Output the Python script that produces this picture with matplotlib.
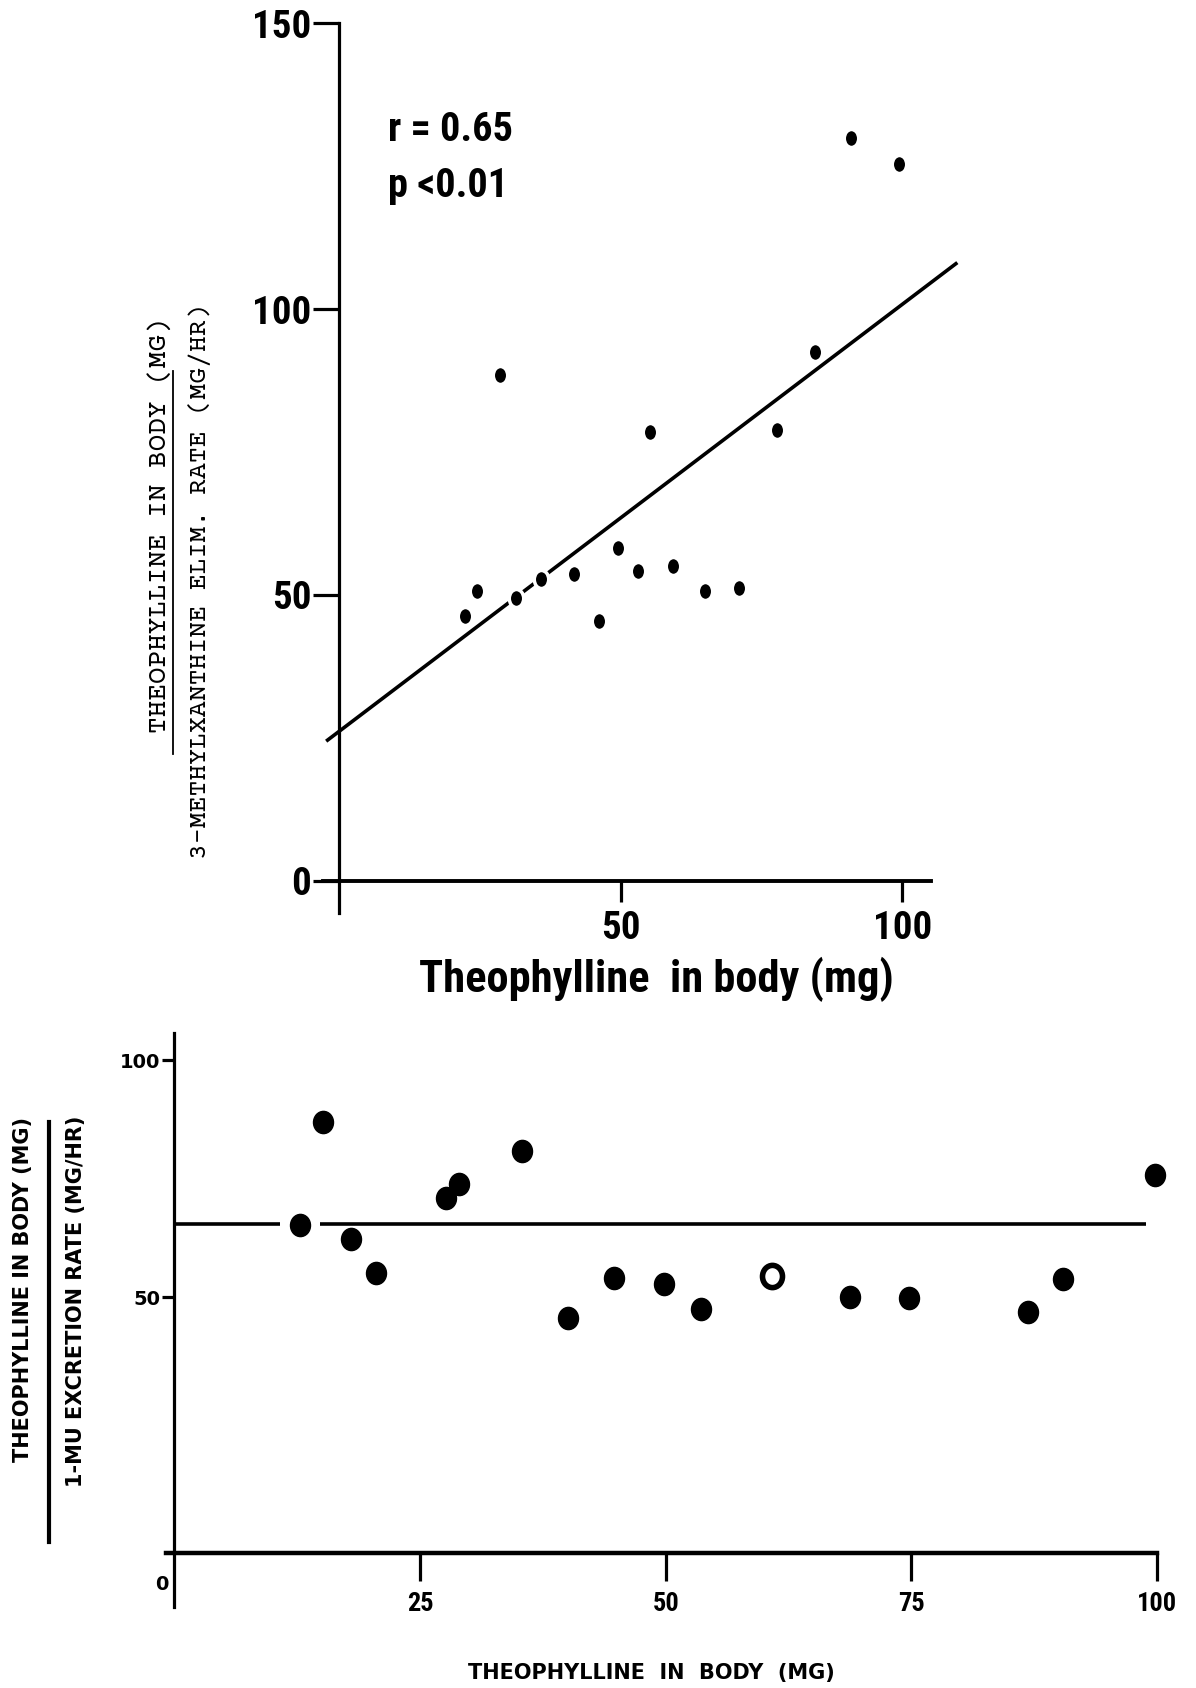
import matplotlib
matplotlib.use("Agg")
import matplotlib.pyplot as plt
from matplotlib.lines import Line2D
from matplotlib.markers import MarkerStyle
from matplotlib.transforms import Affine2D

# --- upper panel: theophylline / 3-methylxanthine elimination rate ---
top_x = [22.4, 24.5, 28.5, 31.4, 35.8, 41.7, 46.1, 49.5, 53.0, 55.3,
         59.3, 65.0, 71.1, 77.8, 84.5, 91.0, 99.4]
top_y = [46.2, 50.7, 88.4, 49.5, 52.7, 53.7, 45.4, 58.2, 54.2, 78.4,
         55.0, 50.7, 51.2, 78.8, 92.5, 130.0, 125.3]
fit_intercept = 26.1
fit_slope = 0.747
fit_range = [-2.3, 109.8]
r_text = "r = 0.65"
p_text = "p <0.01"
top_yticks = [0, 50, 100, 150]
top_xticks = [50, 100]

# --- lower panel: theophylline / 1-MU excretion rate ---
bot_x = [12.8, 15.1, 18.0, 20.5, 27.6, 29.0, 35.4, 40.1, 44.7, 49.8,
         53.6, 60.8, 68.7, 74.7, 86.9, 90.4, 99.8]
bot_y = [65.2, 87.0, 62.3, 55.0, 70.9, 73.9, 80.9, 45.5, 54.1, 52.7,
         47.5, 54.5, 50.0, 49.8, 46.8, 53.9, 75.7]
bot_open = [False] * 11 + [True] + [False] * 5
mean_level = 65.5
mean_segments = [(0, 10.7), (14.8, 98.9)]
bot_yticks = [50, 100]
bot_xticks = [25, 50, 75, 100]

narrow = ['Roboto Condensed', 'PT Sans Narrow', 'Archivo Narrow', 'DejaVu Sans']
mono = ['Courier Prime', 'Liberation Mono', 'DejaVu Sans Mono']
bold_sans = ['DejaVu Sans']

fig = plt.figure(figsize=(11.96, 16.88), dpi=100)

# ===== top panel =====
ax = fig.add_axes([0.26, 0.4445, 0.5508, 0.5485])
ax.set_xlim(-5, 112)
ax.set_ylim(-10, 152)
for s in ['top', 'right']:
    ax.spines[s].set_visible(False)
ax.spines['left'].set_position(('data', 0))
ax.spines['bottom'].set_position(('data', 0))
ax.spines['left'].set_bounds(-5.6, 150)
ax.spines['bottom'].set_bounds(-2.9, 105.2)
ax.spines['left'].set_linewidth(2.3)
ax.spines['bottom'].set_linewidth(2.8)

ax.set_yticks(top_yticks)
ax.set_yticklabels([str(t) for t in top_yticks])
ax.set_xticks(top_xticks)
ax.set_xticklabels([str(t) for t in top_xticks])
ax.tick_params(axis='y', direction='out', length=19, width=2.3, pad=1)
ax.tick_params(axis='x', direction='out', length=15, width=2.3, pad=6)
for lab in ax.get_yticklabels() + ax.get_xticklabels():
    lab.set_family(narrow)
    lab.set_fontweight('bold')
    lab.set_fontsize(28)

xs = fit_range
ys = [fit_intercept + fit_slope * v for v in xs]
ax.plot(xs, ys, color='black', lw=2.6, solid_capstyle='butt', zorder=2)

oval = MarkerStyle('o', transform=Affine2D().scale(0.8, 1.0))
ax.plot(top_x, top_y, linestyle='none', marker=oval, markersize=13,
        markerfacecolor='black', markeredgecolor='white', markeredgewidth=2.5,
        zorder=3)

ax.text(8.6, 131.3, r_text, family=narrow, fontweight='bold', fontsize=29,
        va='center', ha='left')
ax.text(8.6, 121.6, p_text, family=narrow, fontweight='bold', fontsize=29,
        va='center', ha='left')

fig.text(0.549, 0.4196, "Theophylline  in body (mg)", family=narrow,
         fontweight='bold', fontsize=32, ha='center', va='center')

# typewritten ratio label with fraction bar
fig.text(0.1332, 0.6888, "THEOPHYLLINE IN BODY (MG)", family=mono,
         fontsize=20, rotation=90, ha='center', va='center')
fig.text(0.1665, 0.6556, "3-METHYLXANTHINE ELIM. RATE (MG/HR)", family=mono,
         fontsize=19, rotation=90, ha='center', va='center')
fig.add_artist(Line2D([0.1445, 0.1445], [0.5536, 0.78], color='black', lw=1.3,
                      transform=fig.transFigure))

# ===== bottom panel =====
bx = fig.add_axes([0.1047, 0.0351, 0.8875, 0.3536])
bx.set_xlim(-5, 103)
bx.set_ylim(-20, 106)
for s in ['top', 'right']:
    bx.spines[s].set_visible(False)
bx.spines['left'].set_position(('data', 0))
bx.spines['bottom'].set_position(('data', -4))
bx.spines['left'].set_bounds(-15.5, 105.7)
bx.spines['bottom'].set_bounds(-0.8, 100)
bx.spines['left'].set_linewidth(2.3)
bx.spines['bottom'].set_linewidth(3.2)

bx.set_yticks(bot_yticks)
bx.set_yticklabels([str(t) for t in bot_yticks])
bx.set_xticks(bot_xticks)
bx.set_xticklabels([str(t) for t in bot_xticks])
bx.tick_params(axis='y', direction='out', length=9, width=2.3, pad=1, labelsize=14)
bx.tick_params(axis='x', direction='out', length=20, width=2.3, pad=8)
for lab in bx.get_yticklabels():
    lab.set_family(bold_sans)
    lab.set_fontweight('bold')
for lab in bx.get_xticklabels():
    lab.set_family(narrow)
    lab.set_fontweight('bold')
    lab.set_fontsize(19)

bx.text(-1.3, -10.7, "0", family=bold_sans, fontweight='bold', fontsize=14,
        ha='center', va='center')

for x0, x1 in mean_segments:
    bx.plot([x0, x1], [mean_level, mean_level], color='black', lw=2.6,
            solid_capstyle='butt', zorder=2)

oval_b = MarkerStyle('o', transform=Affine2D().scale(0.9, 1.0))
for x, y, op in zip(bot_x, bot_y, bot_open):
    bx.plot([x], [y], linestyle='none', marker=oval_b, markersize=16,
            markerfacecolor='white' if op else 'black',
            markeredgecolor='black', markeredgewidth=4 if op else 1,
            zorder=3)

fig.text(0.545, 0.0089, "THEOPHYLLINE  IN  BODY  (MG)", family=bold_sans,
         fontweight='bold', fontsize=15, ha='center', va='center')

fig.text(0.019, 0.2358, "THEOPHYLLINE IN BODY (MG)", family=bold_sans,
         fontweight='bold', fontsize=15, rotation=90, ha='center', va='center')
fig.text(0.0635, 0.2293, "1-MU EXCRETION RATE (MG/HR)", family=bold_sans,
         fontweight='bold', fontsize=15, rotation=90, ha='center', va='center')
fig.add_artist(Line2D([0.041, 0.041], [0.0865, 0.3353], color='black', lw=3,
                      transform=fig.transFigure))

fig.savefig("out.png", dpi=100, facecolor='white')
